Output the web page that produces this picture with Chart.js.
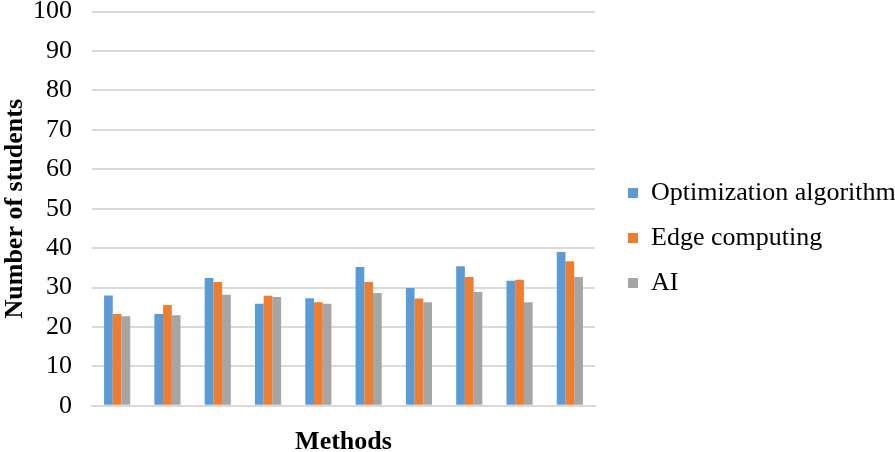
<!DOCTYPE html>
<html>
<head>
<meta charset="utf-8">
<script src="https://cdn.jsdelivr.net/npm/chart.js@4"></script>
<style>
  html, body { margin: 0; padding: 0; background: #fff; overflow: hidden; }
  #wrap { width: 895px; height: 452px; overflow: hidden; position: relative; }
  #chart { position: absolute; left: 0; top: -24px; }
</style>
</head>
<body>
<div id="wrap"><canvas id="chart" width="895" height="482"></canvas></div>
<script>
const categories = ["1", "2", "3", "4", "5", "6", "7", "8", "9", "10"];
const optimization = [28.0, 23.3, 32.4, 25.9, 27.3, 35.2, 29.9, 35.4, 31.7, 39.0];
const edge = [23.3, 25.6, 31.4, 27.9, 26.3, 31.4, 27.2, 32.7, 32.0, 36.7];
const ai = [22.7, 23.0, 28.2, 27.6, 25.9, 28.6, 26.3, 28.9, 26.3, 32.7];
const yTicks = [0, 10, 20, 30, 40, 50, 60, 70, 80, 90, 100];

const font = "'Liberation Serif', 'Times New Roman', serif";

// legend sits a bit further right and lower than Chart.js puts it
const legendNudge = {
  id: "legendNudge",
  beforeLayout(chart) {
    const lg = chart.legend;
    if (lg && !lg._patched) {
      const fit = lg.fit.bind(lg);
      lg.fit = function () { fit(); this.width = 300; };
      lg._patched = true;
    }
  },
  afterLayout(chart) {
    const lg = chart.legend;
    if (!lg) return;
    lg.left += 14; lg.right += 14;
    lg.top += 21; lg.bottom += 21;
  },
};

new Chart(document.getElementById("chart"), {
  type: "bar",
  data: {
    labels: categories,
    datasets: [
      { label: "Optimization algorithm", data: optimization, backgroundColor: "#5b9bd5" },
      { label: "Edge computing", data: edge, backgroundColor: "#ed7d31" },
      { label: "AI", data: ai, backgroundColor: "#a5a5a5" },
    ],
  },
  plugins: [legendNudge],
  options: {
    responsive: false,
    animation: false,
    layout: { padding: 0 },
    datasets: { bar: { barPercentage: 1, categoryPercentage: 0.52 } },
    plugins: {
      tooltip: { enabled: false },
      legend: {
        position: "right",
        maxWidth: 320,
        labels: {
          font: { family: font, size: 26 },
          color: "#000",
          boxWidth: 10,
          boxHeight: 10,
          padding: 19,
        },
      },
    },
    scales: {
      x: {
        grid: { display: false },
        border: { display: true, color: "#d9d9d9", width: 2 },
        ticks: { display: false },
        title: {
          display: true,
          text: "Methods",
          font: { family: font, size: 26, weight: "bold" },
          color: "#000",
          padding: { top: 13, bottom: 0 },
        },
      },
      y: {
        min: 0,
        max: 100,
        afterBuildTicks: (axis) => { axis.ticks = yTicks.map((v) => ({ value: v })); },
        afterFit: (axis) => { axis.width = 92; },
        grid: { color: "#d9d9d9", lineWidth: 2, drawTicks: false },
        border: { display: false },
        ticks: {
          font: { family: font, size: 26 },
          color: "#000",
          padding: 20,
        },
        title: {
          display: true,
          text: "Number of students",
          font: { family: font, size: 26, weight: "bold" },
          color: "#000",
          padding: { top: 0, bottom: 4 },
        },
      },
    },
  },
});
</script>
</body>
</html>
